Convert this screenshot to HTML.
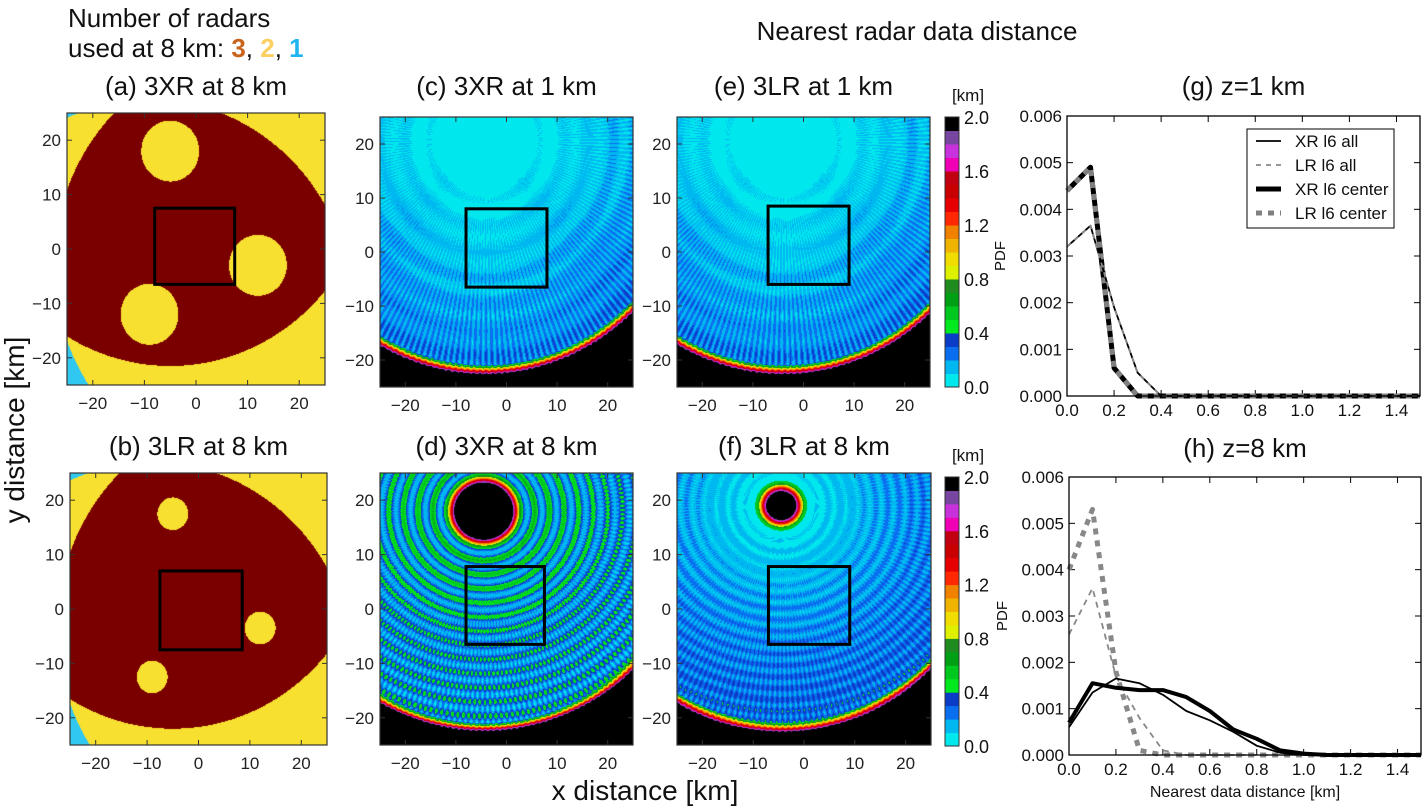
<!DOCTYPE html>
<html><head><meta charset="utf-8">
<style>
html,body{margin:0;padding:0;background:#fff;}
#root{position:relative;width:1423px;height:806px;overflow:hidden;font-family:"Liberation Sans",sans-serif;}
canvas{position:absolute;}
svg{position:absolute;left:0;top:0;}
</style></head>
<body>
<div id="root">
<canvas id="ca" width="258" height="272" style="left:67px;top:113px"></canvas>
<canvas id="cb" width="257" height="272" style="left:70px;top:473px"></canvas>
<canvas id="cc" width="253" height="270" style="left:380px;top:117px"></canvas>
<canvas id="cd" width="253" height="272" style="left:380px;top:473px"></canvas>
<canvas id="ce" width="253" height="270" style="left:677px;top:117px"></canvas>
<canvas id="cf" width="254" height="272" style="left:677px;top:473px"></canvas>
<svg id="ov" width="1423" height="806"></svg>
</div>
<script>
// ---- line chart data ----
const xs = [0,0.1,0.2,0.3,0.4,0.5,0.6,0.7,0.8,0.9,1.0,1.1,1.2,1.3,1.4,1.5];
const g_xr_all = [0.0032,0.00365,0.0019,0.0005,0,0,0,0,0,0,0,0,0,0,0,0];
const g_lr_all = [0.0032,0.00365,0.0019,0.0005,0,0,0,0,0,0,0,0,0,0,0,0];
const g_xr_center = [0.0044,0.0049,0.0006,0,0,0,0,0,0,0,0,0,0,0,0,0];
const g_lr_center = [0.0044,0.0049,0.0006,0,0,0,0,0,0,0,0,0,0,0,0,0];
const h_xr_all = [0.0006,0.00135,0.00165,0.00155,0.0013,0.00095,0.00075,0.0005,0.0002,0.00005,0,0,0,0,0,0];
const h_lr_all = [0.0026,0.0036,0.0017,0.0008,0.0001,0,0,0,0,0,0,0,0,0,0,0];
const h_xr_center = [0.0007,0.00155,0.00145,0.0014,0.0014,0.00125,0.00095,0.00055,0.00035,0.0001,0.00003,0,0,0,0,0];
const h_lr_center = [0.004,0.0053,0.0018,0.0001,0,0,0,0,0,0,0,0,0,0,0,0];
const xTicks = [0,0.2,0.4,0.6,0.8,1.0,1.2,1.4];
const yTicks = [0,0.001,0.002,0.003,0.004,0.005,0.006];
const mapTicks = [-20,-10,0,10,20];
const cbTicks = [0,0.4,0.8,1.2,1.6,2.0];
const cbColors = ['#00e8ee','#00b8f0','#0a6ef0','#0a3cc8','#00e81e','#00c81e','#00a014','#1e8c1e','#dcf000','#f0dc00','#f0b400','#f08200','#ff2800','#e60000','#c80000','#c00010','#f000b4','#c832dc','#7846a0','#000000'];

const NS='http://www.w3.org/2000/svg';
const ov=document.getElementById('ov');
function el(tag,attrs,parent){const e=document.createElementNS(NS,tag);for(const k in attrs)e.setAttribute(k,attrs[k]);(parent||ov).appendChild(e);return e;}
function txt(x,y,s,size,anchor,parent,extra){const t=el('text',Object.assign({x:x,y:y,'font-size':size,'text-anchor':anchor||'middle','font-family':'Liberation Sans, sans-serif',fill:'#111'},extra||{}),parent);t.textContent=s;return t;}

function hex(c){return [parseInt(c.slice(1,3),16),parseInt(c.slice(3,5),16),parseInt(c.slice(5,7),16)];}
const cbRGB=cbColors.map(hex);
function colorOf(v){let i=Math.floor(v/0.1);if(i<0)i=0;if(i>19)i=19;return cbRGB[i];}

function drawMap(id,fn,rgbMode){
  const c=document.getElementById(id),ctx=c.getContext('2d');
  const W=c.width,H=c.height,img=ctx.createImageData(W,H);
  for(let py=0;py<H;py++)for(let px=0;px<W;px++){
    const x=-25+50*(px+0.5)/W,y=25-50*(py+0.5)/H;
    const col=rgbMode?fn(x,y):colorOf(fn(x,y));
    const k=(py*W+px)*4;img.data[k]=col[0];img.data[k+1]=col[1];img.data[k+2]=col[2];img.data[k+3]=255;
  }
  ctx.putImageData(img,0,0);
}
function countMap(radars,hole,R){
  const red=[122,0,0],yel=[248,224,48],cy=[48,200,240];
  return function(x,y){
    let n=0;
    for(const r of radars){const d=Math.hypot(x-r[0],y-r[1]);if(d<R&&d>hole)n++;}
    return n>=3?red:(n==2?yel:cy);
  };
}
drawMap('ca',countMap([[-5,18],[12,-3],[-9,-12]],5.6,39.5),true);
drawMap('cb',countMap([[-5,17.5],[12,-3.5],[-9,-12.5]],3,39.5),true);
function stripes(x,y,cx,cy){const th=Math.atan2(y-cy,x-cx);return Math.sin(th*220);}
function fieldC(ox){return function(x,y){
  const cx=-4.3+ox,cy=20.6,r=Math.hypot(x-cx,y-cy);
  if(r>43.5)return 2;
  const th=Math.atan2(y-cy,x-cx);
  let v=0.02+0.0058*r+0.0022*r*stripes(x,y,cx,cy)+0.03*Math.sin(r*1.3)-0.03*Math.abs(Math.cos(th*2));
  if(r>41.5)v+= (r-41.5)*1.0;
  return v;};}
drawMap('cc',fieldC(0));
drawMap('ce',fieldC(0.3));
drawMap('cd',function(x,y){
  const cx=-4.5,cy=18,r=Math.hypot((x-cx)*0.9,y-cy);
  const R=Math.hypot(x+4.3,y-20.6);
  if(R>43.5)return 2;
  if(r<5.2)return 1.95;
  if(r<6.5)return 1.95-(r-5.2)*1.0;
  let band=0.5+0.5*Math.cos(2*Math.PI*(r-6.5)/2.6);
  let v=0.15+0.55*Math.pow(band,1.3)*Math.max(0.5,1-r/50)+0.0025*r*stripes(x,y,cx,cy);
  if(R>41.5)v+=(R-41.5)*1.0;
  return v;});
drawMap('cf',function(x,y){
  const cx=-4.5,cy=19,r=Math.hypot((x-cx)*0.9,y-cy);
  const R=Math.hypot(x+4.3,y-20.6);
  if(R>43.5)return 2;
  if(r<2.6)return 1.95;
  if(r<4.2)return 1.95-(r-2.6)*0.9;
  if(r<4.6)return 0.5;
  let band=0.5+0.5*Math.cos(2*Math.PI*r/2.1);
  let v=0.03+0.005*r+0.12*band*Math.min(1,r/18)+0.002*r*stripes(x,y,cx,cy);
  if(R>41.5)v+=(R-41.5)*1.0;
  return v;});

const maps=[
 {n:'a',x:67,y:113,w:258,h:272,sq:[-8,7.5,-6.5,7.5],title:'(a) 3XR at 8 km',ty:95},
 {n:'b',x:70,y:473,w:257,h:272,sq:[-7.5,8.5,-7.5,7],title:'(b) 3LR at 8 km',ty:455},
 {n:'c',x:380,y:117,w:253,h:270,sq:[-8,8,-6.5,8],title:'(c) 3XR at 1 km',ty:95},
 {n:'d',x:380,y:473,w:253,h:272,sq:[-8,7.5,-6.5,7.8],title:'(d) 3XR at 8 km',ty:455},
 {n:'e',x:677,y:117,w:253,h:270,sq:[-7,9,-6,8.5],title:'(e) 3LR at 1 km',ty:95},
 {n:'f',x:677,y:473,w:254,h:272,sq:[-7,9,-6.5,7.8],title:'(f) 3LR at 8 km',ty:455}
];
maps.forEach(m=>{
  const g=el('g',{});
  
  
  const sx=v=>m.x+(v+25)/50*m.w, sy=v=>m.y+(25-v)/50*m.h;
  const t=txt(m.x+m.w/2,m.ty,m.title,26,'middle',g);
  
  
  el('rect',{x:m.x,y:m.y,width:m.w,height:m.h,fill:'none',stroke:'#333','stroke-width':1.2},g);
  mapTicks.forEach(v=>{
    el('line',{x1:sx(v),x2:sx(v),y1:m.y+m.h,y2:m.y+m.h-5,stroke:'#333'},g);
    el('line',{x1:sx(v),x2:sx(v),y1:m.y,y2:m.y+5,stroke:'#333'},g);
    el('line',{x1:m.x,x2:m.x+5,y1:sy(v),y2:sy(v),stroke:'#333'},g);
    el('line',{x1:m.x+m.w,x2:m.x+m.w-5,y1:sy(v),y2:sy(v),stroke:'#333'},g);
    txt(sx(v),m.y+m.h+24,(v<0?'\u2212':'')+Math.abs(v),17,'middle',g,{fill:'#222'});
    txt(m.x-6,sy(v)+6,(v<0?'\u2212':'')+Math.abs(v),17,'end',g,{fill:'#222'});
  });
  const s=m.sq;
  const r=el('rect',{x:sx(s[0]),y:sy(s[3]),width:sx(s[1])-sx(s[0]),height:sy(s[2])-sy(s[3]),fill:'none',stroke:'#000','stroke-width':3},g);
  
  
});
[[117,387],[477,746]].forEach((yy,i)=>{
  const g=el('g',{});
  
  
  const x=945,w=14,h=yy[1]-yy[0];
  cbColors.forEach((c,k)=>{el('rect',{x:x,y:yy[1]-(k+1)*h/20,width:w,height:h/20+0.5,fill:c},g);});
  el('rect',{x:x,y:yy[0],width:w,height:h,fill:'none',stroke:'#333'},g);
  cbTicks.forEach(v=>{const y=yy[1]-v/2*h;txt(x+w+5,y+7,v.toFixed(1),18,'start',g);});
  txt(968,yy[0]-16,'[km]',17,'middle',g);
});
function lineChart(name,L,T,R,B,title,ty,series,xlabel){
  const g=el('g',{});
  
  
  const sx=v=>L+v/1.5*(R-L), sy=v=>B-v/0.006*(B-T);
  txt((L+R)/2,ty,title,26,'middle',g);
  yTicks.forEach(v=>{
    el('line',{x1:L,x2:L+6,y1:sy(v),y2:sy(v),stroke:'#000'},g);
    el('line',{x1:R,x2:R-6,y1:sy(v),y2:sy(v),stroke:'#000'},g);
    txt(L-5,sy(v)+6,v.toFixed(3),17,'end',g);
  });
  xTicks.forEach(v=>{
    el('line',{x1:sx(v),x2:sx(v),y1:B,y2:B-6,stroke:'#000'},g);
    el('line',{x1:sx(v),x2:sx(v),y1:T,y2:T+6,stroke:'#000'},g);
    txt(sx(v),B+20,v.toFixed(1),17,'middle',g);
  });
  const yl=txt(0,0,'PDF',15,'middle',g);
  yl.setAttribute('transform','translate('+(L-62)+','+((T+B)/2)+') rotate(-90)');
  if(xlabel)txt((L+R)/2,B+42,xlabel,16,'middle',g);
  series.forEach(s=>{
    const d=s.vals.map((v,i)=>(i?'L':'M')+sx(xs[i]).toFixed(1)+','+sy(v).toFixed(1)).join(' ');
    const p=el('path',{d:d,fill:'none',stroke:s.color,'stroke-width':s.w,'stroke-dasharray':s.dash||'none','stroke-linejoin':'round'},g);
    
    
  });
  el('rect',{x:L,y:T,width:R-L,height:B-T,fill:'none',stroke:'#000','stroke-width':1.3},g);
  return g;
}
lineChart('chart-g',1067,116,1420,396,'(g) z=1 km',95,[
  {name:'line-g-xr-center',vals:g_xr_center,color:'#000',w:5},
  {name:'line-g-lr-center',vals:g_lr_center,color:'#808080',w:5,dash:'6,6'},
  {name:'line-g-xr-all',vals:g_xr_all,color:'#000',w:1.8},
  {name:'line-g-lr-all',vals:g_lr_all,color:'#888',w:1.8,dash:'5,5'}
],null);
lineChart('chart-h',1069,477,1421,755,'(h) z=8 km',457,[
  {name:'line-h-lr-center',vals:h_lr_center,color:'#888',w:5,dash:'6,6'},
  {name:'line-h-lr-all',vals:h_lr_all,color:'#888',w:1.8,dash:'6,5'},
  {name:'line-h-xr-center',vals:h_xr_center,color:'#000',w:4},
  {name:'line-h-xr-all',vals:h_xr_all,color:'#000',w:1.8}
],'Nearest data distance [km]');
(function(){
  const g=el('g',{});
  
  
  el('rect',{x:1247,y:129,width:147,height:99,fill:'#fff',stroke:'#000','stroke-width':1},g);
  const items=[['XR l6 all','#000',1.8,''],['LR l6 all','#888',1.8,'5,5'],['XR l6 center','#000',5,''],['LR l6 center','#808080',5,'6,6']];
  items.forEach((it,i)=>{
    const y=141+i*24;
    el('line',{x1:1256,x2:1281,y1:y,y2:y,stroke:it[1],'stroke-width':it[2],'stroke-dasharray':it[3]||'none'},g);
    const t=txt(1295,y+6,it[0],17,'start',g);
    
    
  });
})();
txt(68,27,'Number of radars',26,'start');
const t2=el('text',{x:68,y:57,'font-size':26,'font-family':'Liberation Sans, sans-serif',fill:'#111'});
t2.innerHTML='used at 8 km: <tspan fill="#c8641e" font-weight="bold">3</tspan>, <tspan fill="#fcd060" font-weight="bold">2</tspan>, <tspan fill="#20b4f0" font-weight="bold">1</tspan>';
txt(917,40,'Nearest radar data distance',26,'middle');
const yl=txt(0,0,'y distance [km]',28,'middle');
yl.setAttribute('transform','translate(24,430) rotate(-90)');


const xl=txt(645,800,'x distance [km]',28,'middle');


</script>
</body></html>
